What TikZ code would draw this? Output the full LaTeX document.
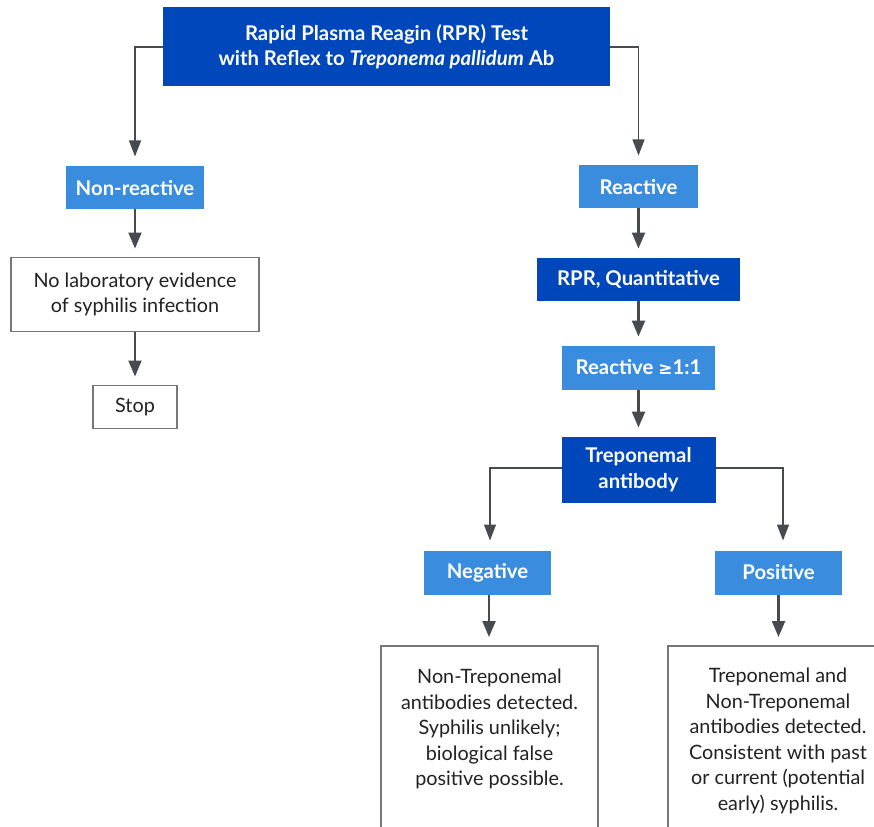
\documentclass[tikz,border=0pt]{standalone}
\usepackage{fontspec}
\setmainfont{Lato}
\usetikzlibrary{arrows.meta}
\definecolor{dkblue}{HTML}{0047BB}
\definecolor{ltblue}{HTML}{3A8DDE}
\definecolor{arrowgrey}{HTML}{474A4F}
\definecolor{linegrey}{HTML}{6E6E6E}
\definecolor{boxgrey}{HTML}{777777}
\definecolor{txt}{HTML}{222222}
\tikzset{
  every node/.style={inner sep=0pt, outer sep=0pt, align=center},
  dkbox/.style={fill=dkblue, text=white, font=\fontsize{20.3}{25.5}\selectfont\bfseries},
  ltbox/.style={fill=ltblue, text=white, font=\fontsize{20.3}{25.5}\selectfont\bfseries},
  wbox/.style={draw=boxgrey, line width=1.2pt, fill=white, text=txt, font=\fontsize{19.8}{25.5}\selectfont},
  txtnode/.style={text=txt, font=\fontsize{19.8}{25.5}\selectfont},
  thickarr/.style={draw=arrowgrey, line width=2.2pt, -{Triangle[length=16pt,width=13pt]}, shorten >=9pt},
  thinarr/.style={draw=linegrey, line width=1.3pt, -{Triangle[length=16pt,width=12pt]}, shorten >=10pt, arrowgrey},
}
\begin{document}
\begin{tikzpicture}[x=1pt,y=-1pt]
\useasboundingbox (0,0) rectangle (874,826);
\clip (0,0) rectangle (874,826);
% boxes
\node[dkbox, minimum width=447pt, minimum height=79pt] (top) at (386.5,46.5)
  {Rapid Plasma Reagin (RPR) Test\\with Reflex to \textit{Treponema pallidum} Ab};
\node[ltbox, minimum width=138pt, minimum height=43pt] (nonr) at (135,188) {Non-reactive};
\node[wbox, minimum width=248pt, minimum height=74pt] (nolab) at (135,294.5)
  {No laboratory evidence\\of syphilis infection};
\node[wbox, minimum width=84pt, minimum height=43pt] (stop) at (135,407) {Stop};
\node[ltbox, minimum width=119pt, minimum height=43pt] (react) at (638.5,187) {Reactive};
\node[dkbox, minimum width=203pt, minimum height=43pt] (rprq) at (638.5,279) {RPR, Quantitative};
\node[ltbox, minimum width=153pt, minimum height=44pt] (r11) at (638.5,367.5) {Reactive \fontspec{DejaVu Sans}\bfseries\fontsize{17}{20}\selectfont≥\fontspec{Lato}\bfseries\fontsize{20.3}{25.5}\selectfont1:1};
\node[dkbox, minimum width=154pt, minimum height=66pt] (trep) at (638.5,469.5) {Treponemal\\antibody};
\node[ltbox, minimum width=127pt, minimum height=44pt] (neg) at (487.5,572.5) {Negative};
\node[ltbox, minimum width=127pt, minimum height=44pt] (pos) at (778.5,572.5) {Positive};
\node[wbox, minimum width=217pt, minimum height=220pt, anchor=north] (negbox) at (489.5,646) {};
\node[wbox, minimum width=220pt, minimum height=220pt, anchor=north] (posbox) at (778,646) {};
\node[txtnode, anchor=north] (negtxt) at (489.5,669)
  {Non-Treponemal\\antibodies detected.\\Syphilis unlikely;\\biological false\\positive possible.};
\node[txtnode, anchor=north] (postxt) at (778,668)
  {Treponemal and\\Non-Treponemal\\antibodies detected.\\Consistent with past\\or current (potential\\early) syphilis.};
% connectors
\draw[thinarr] (top.west |- 0,47) -| (nonr.north);
\draw[thinarr] (top.east |- 0,47) -| (react.north);
\draw[thickarr] (nonr) -- (nolab);
\draw[thickarr] (nolab) -- (stop);
\draw[thickarr] (react) -- (rprq);
\draw[thickarr] (rprq) -- (r11);
\draw[thickarr] (r11) -- (trep);
\draw[thinarr] (trep.west |- 0,468) -| (neg.north -| 490,0);
\draw[thinarr] (trep.east |- 0,468) -| (pos.north -| 783,0);
\draw[thickarr] (neg.south -| 489,0) -- (negbox.north -| 489,0);
\draw[thickarr] (pos) -- (pos |- posbox.north);
\end{tikzpicture}
\end{document}
